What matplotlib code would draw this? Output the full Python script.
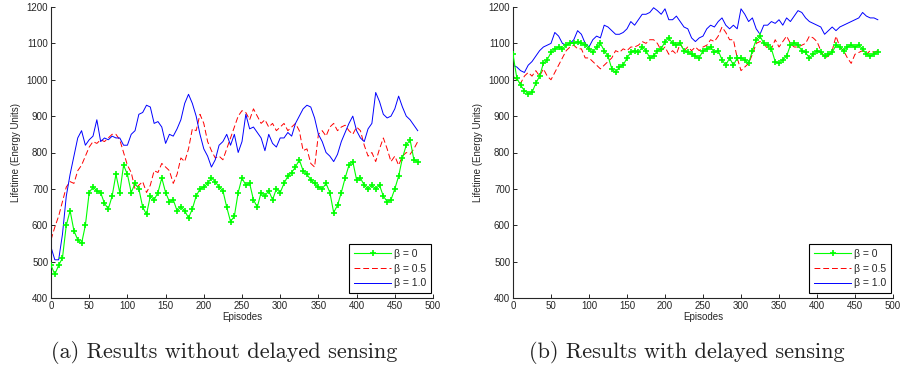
import numpy as np
import matplotlib
matplotlib.use("Agg")
import matplotlib.pyplot as plt
from matplotlib.lines import Line2D

episodes = list(range(0, 481, 5))

# (a) without delayed sensing
a_beta0 = [490, 465, 490, 510, 600, 640, 585, 560, 550, 600, 690, 705, 695, 690, 660, 645, 680, 740, 690, 765,
           740, 690, 715, 700, 650, 630, 680, 670, 690, 730, 690, 665, 670, 640, 650, 640, 620, 645, 680, 700,
           705, 715, 730, 720, 705, 695, 650, 610, 625, 690, 730, 710, 715, 670, 650, 690, 680, 695, 670, 700,
           690, 715, 735, 745, 760, 780, 750, 740, 725, 715, 705, 700, 715, 690, 635, 655, 690, 730, 765, 775,
           725, 730, 710, 700, 710, 700, 710, 680, 665, 670, 700, 735, 785, 820, 835, 780, 775]
a_beta05 = [560, 595, 625, 665, 705, 720, 715, 750, 765, 790, 815, 830, 825, 835, 830, 840, 850, 850, 835, 800,
            765, 745, 700, 710, 720, 690, 710, 750, 745, 770, 760, 750, 715, 740, 785, 775, 810, 865, 860, 905,
            880, 830, 805, 785, 790, 780, 810, 840, 870, 900, 915, 910, 890, 920, 900, 880, 890, 870, 880, 860,
            870, 880, 860, 870, 880, 860, 805, 810, 770, 760, 850, 860, 845, 870, 880, 860, 870, 875, 860, 850,
            870, 860, 820, 790, 800, 775, 810, 840, 810, 775, 790, 765, 790, 800, 795, 810, 830]
a_beta10 = [540, 505, 505, 575, 680, 740, 790, 840, 860, 820, 835, 845, 890, 830, 840, 835, 845, 840, 840, 820,
            820, 850, 860, 905, 910, 930, 925, 880, 885, 870, 825, 850, 845, 865, 890, 935, 960, 935, 900, 850,
            810, 790, 760, 780, 820, 830, 850, 820, 850, 800, 830, 905, 865, 870, 855, 840, 805, 850, 825, 815,
            840, 840, 855, 845, 880, 900, 920, 930, 925, 895, 850, 830, 800, 790, 775, 795, 830, 855, 880, 900,
            860, 840, 830, 865, 880, 965, 940, 905, 895, 900, 920, 955, 925, 900, 890, 875, 860]

# (b) with delayed sensing
b_beta0 = [1070, 1005, 985, 970, 962, 965, 990, 1010, 1045, 1055, 1075, 1085, 1090, 1085, 1095, 1100, 1100, 1105,
           1100, 1095, 1085, 1075, 1090, 1100, 1080, 1065, 1030, 1020, 1035, 1040, 1060, 1075, 1080, 1075, 1090,
           1080, 1060, 1065, 1080, 1085, 1105, 1115, 1100, 1095, 1100, 1080, 1075, 1070, 1065, 1060, 1080, 1085,
           1090, 1075, 1080, 1055, 1040, 1060, 1040, 1060, 1060, 1055, 1045, 1080, 1110, 1120, 1100, 1095, 1085,
           1050, 1045, 1055, 1065, 1095, 1100, 1095, 1080, 1075, 1060, 1070, 1080, 1075, 1065, 1070, 1075, 1095,
           1090, 1080, 1090, 1095, 1090, 1095, 1085, 1070, 1065, 1070, 1075]
b_beta05 = [1010, 1000, 990, 1010, 1020, 1010, 1025, 1010, 1030, 1010, 1000, 1020, 1040, 1060, 1080, 1090, 1095,
            1085, 1085, 1060, 1060, 1050, 1040, 1030, 1040, 1050, 1060, 1080, 1075, 1085, 1080, 1090, 1090, 1095,
            1105, 1100, 1110, 1110, 1100, 1080, 1090, 1070, 1080, 1070, 1100, 1080, 1090, 1080, 1090, 1080, 1090,
            1095, 1110, 1105, 1120, 1145, 1130, 1110, 1110, 1060, 1025, 1035, 1045, 1070, 1100, 1105, 1100, 1085,
            1085, 1110, 1090, 1105, 1120, 1100, 1090, 1090, 1095, 1100, 1120, 1115, 1105, 1080, 1060, 1065, 1080,
            1120, 1090, 1080, 1060, 1045, 1070, 1075, 1080, 1070, 1080, 1075, 1080]
b_beta10 = [1040, 1035, 1025, 1020, 1040, 1050, 1065, 1080, 1090, 1095, 1100, 1130, 1120, 1100, 1095, 1100, 1110,
            1135, 1125, 1100, 1090, 1110, 1120, 1115, 1150, 1145, 1135, 1125, 1125, 1130, 1140, 1160, 1150, 1165,
            1180, 1180, 1185, 1198, 1190, 1180, 1195, 1165, 1165, 1175, 1160, 1145, 1140, 1115, 1105, 1115, 1120,
            1140, 1150, 1145, 1160, 1170, 1150, 1140, 1150, 1140, 1195, 1180, 1160, 1170, 1140, 1125, 1150, 1150,
            1160, 1155, 1165, 1150, 1170, 1160, 1175, 1190, 1185, 1170, 1160, 1155, 1150, 1145, 1125, 1135, 1145,
            1135, 1145, 1150, 1155, 1160, 1165, 1170, 1185, 1175, 1170, 1170, 1165]

legend_labels = ["\u03b2 = 0", "\u03b2 = 0.5", "\u03b2 = 1.0"]
captions = ["(a) Results without delayed sensing", "(b) Results with delayed sensing"]
caption_x = [224/902, 687/902]
xticks = list(range(0, 501, 50))
yticks = list(range(400, 1201, 100))

plt.rcParams['font.family'] = ['Liberation Sans', 'DejaVu Sans']

fig = plt.figure(figsize=(9.02, 3.72), dpi=100)
ax_a = fig.add_axes([51/902, 74/372, 382/902, 291/372])
ax_b = fig.add_axes([513/902, 74/372, 380/902, 291/372])

tc = '#262626'
GREEN, RED, BLUE = '#00ff00', '#ff0000', '#0000ff'
for i, (ax, s0, s05, s10) in enumerate([(ax_a, a_beta0, a_beta05, a_beta10),
                                        (ax_b, b_beta0, b_beta05, b_beta10)]):
    ax.plot(episodes, s0, color=GREEN, lw=0.8, marker='+', ms=3.8, mew=1.2, zorder=3)
    ax.plot(episodes, s05, color=RED, lw=0.7, ls=(0, (6, 3)), zorder=2)
    ax.plot(episodes, s10, color=BLUE, lw=0.7, zorder=2)
    ax.set_xlim(0, 500)
    ax.set_ylim(400, 1200)
    ax.set_xticks(xticks)
    ax.set_yticks(yticks)
    ax.spines['top'].set_visible(False)
    ax.spines['right'].set_visible(False)
    for sp in ('left', 'bottom'):
        ax.spines[sp].set_color(tc)
        ax.spines[sp].set_linewidth(0.8)
    ax.tick_params(direction='in', length=3, width=0.7, colors=tc, labelsize=7, pad=2)
    ax.set_xlabel('Episodes', fontsize=7, color=tc, labelpad=1)
    ax.set_ylabel('Lifetime (Energy Units)', fontsize=7, color=tc, labelpad=4)
    handles = [Line2D([], [], color=GREEN, lw=0.8, marker='+', ms=3.8, mew=1.2),
               Line2D([], [], color=RED, lw=0.7, ls=(0, (6, 3))),
               Line2D([], [], color=BLUE, lw=0.7)]
    leg = ax.legend(handles, legend_labels, loc='lower right',
                    bbox_to_anchor=(1 - 2/382, 5/291), borderaxespad=0,
                    fontsize=7.5, frameon=True, fancybox=False, framealpha=1,
                    edgecolor='black', handlelength=3.6, numpoints=1,
                    borderpad=0.45, labelspacing=0.45, handletextpad=0.25)
    leg.get_frame().set_linewidth(0.8)
    for t in leg.get_texts():
        t.set_color(tc)
    fig.text(caption_x[i], 352/372, '', ha='center')
    fig.text(caption_x[i], 20/372, captions[i], ha='center', va='center',
             fontsize=16, family='cmr10', color='#222222')

fig.savefig('out.png', dpi=100)
